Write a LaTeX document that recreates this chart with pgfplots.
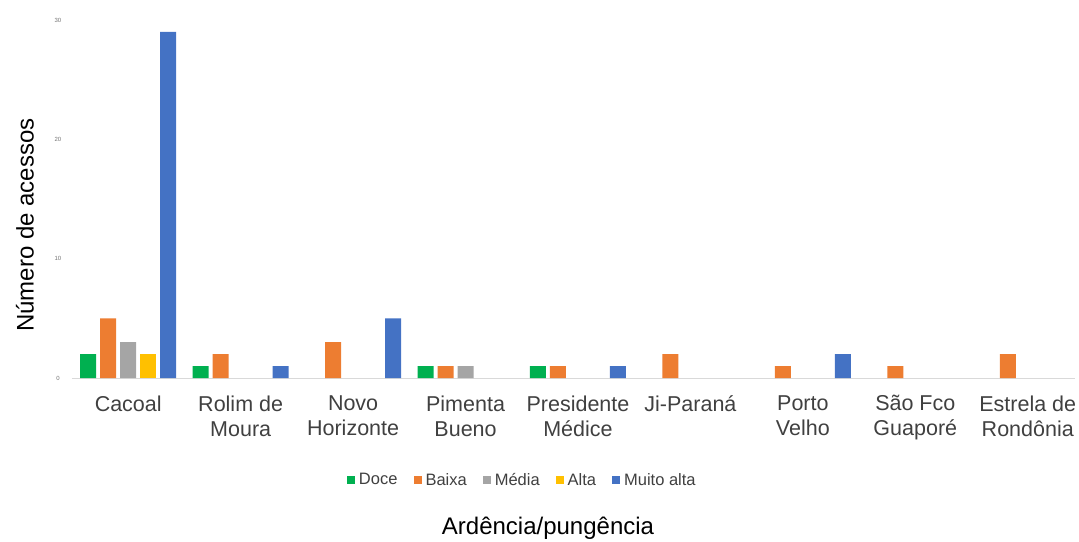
\documentclass[border=0pt]{standalone}
\usepackage{fontspec}
\setmainfont{Liberation Sans}
\usepackage{pgfplots}
\pgfplotsset{compat=1.18}

\definecolor{cDoce}{HTML}{00B050}
\definecolor{cBaixa}{HTML}{ED7D31}
\definecolor{cMedia}{HTML}{A5A5A5}
\definecolor{cAlta}{HTML}{FFC000}
\definecolor{cMuito}{HTML}{4472C4}
\definecolor{txt}{HTML}{404040}

\begin{document}
\begin{tikzpicture}
\useasboundingbox (-72pt,-163pt) rectangle (1007pt,378pt);
\begin{axis}[
    at={(0,0)}, anchor=south west,
    scale only axis,
    width=1003pt, height=358pt,
    xmin=-0.5, xmax=8.42,
    ymin=0, ymax=30,
    ybar=4pt, bar width=16pt,
    axis x line*=bottom,
    axis y line=none,
    x axis line style={draw=black!15, line width=0.8pt},
    xtick={0,...,8},
    xticklabels={Cacoal, {Rolim de\\Moura}, {Novo\\Horizonte}, {Pimenta\\Bueno},
        {Presidente\\Médice}, Ji-Paraná, {Porto\\Velho}, {São Fco\\Guaporé}, {Estrela de\\Rondônia}},
    x tick label style={font=\fontsize{21.5}{25}\selectfont, text=txt, align=center, yshift=-14pt},
    major tick length=0pt,
    legend style={draw=none, at={(rel axis cs:0.449,-0.285)}, anchor=center,
        legend columns=5, font=\fontsize{16.5}{19}\selectfont, text=txt,
        /tikz/every odd column/.append style={column sep=2pt},
        /tikz/every even column/.append style={column sep=14pt}},
    legend image code/.code={\fill[#1] (0pt,-4pt) rectangle (8pt,4pt);},
    legend cell align=left,
    clip=false,
]
\addplot[fill=cDoce, draw=none] coordinates {(0,2) (1,1) (3,1) (4,1)};
\addplot[fill=cBaixa, draw=none] coordinates {(0,5) (1,2) (2,3) (3,1) (4,1) (5,2) (6,1) (7,1) (8,2)};
\addplot[fill=cMedia, draw=none] coordinates {(0,3) (3,1)};
\addplot[fill=cAlta, draw=none] coordinates {(0,2)};
\addplot[fill=cMuito, draw=none] coordinates {(0,29) (1,1) (2,5) (4,1) (6,2)};
\legend{Doce, Baixa, Média, Alta, Muito alta}
\end{axis}
% small y tick labels
\foreach \v/\yy in {0/0,10/119.3,20/238.7,30/358} {
  \node[font=\fontsize{6}{7}\selectfont, text=black!55] at (-14pt,\yy pt) {\v};
}
\node[rotate=90, font=\fontsize{24}{28}\selectfont, text=black] at (-47pt,153pt) {Número de acessos};
\node[font=\fontsize{24}{28}\selectfont, text=black] at (476pt,-150pt) {Ardência/pungência};
\end{tikzpicture}
\end{document}
